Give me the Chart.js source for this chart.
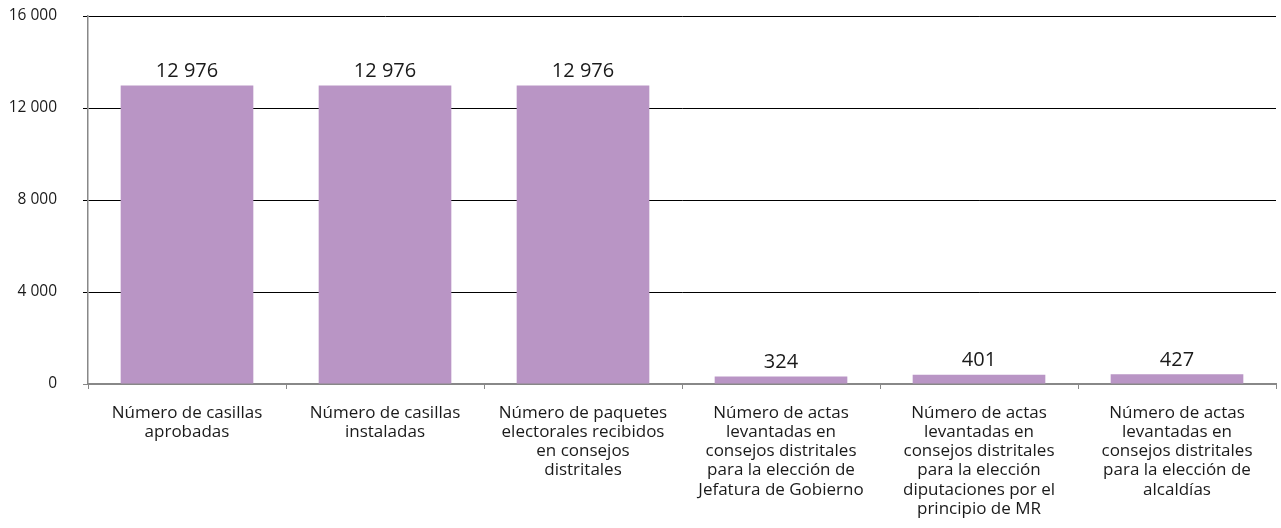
<!DOCTYPE html>
<html lang="es">
<head>
<meta charset="UTF-8">
<title>Casillas y actas</title>
<style>
  html, body { margin: 0; padding: 0; background: #fff; }
  #wrap { width: 1281px; height: 528px; }
</style>
<script src="https://cdn.jsdelivr.net/npm/chart.js"></script>
</head>
<body>
<div id="wrap"><canvas id="grafico" width="1281" height="528"></canvas></div>
<script>
const categorias = [
  ['Número de casillas', 'aprobadas'],
  ['Número de casillas', 'instaladas'],
  ['Número de paquetes', 'electorales recibidos', 'en consejos', 'distritales'],
  ['Número de actas', 'levantadas en', 'consejos distritales', 'para la elección de', 'Jefatura de Gobierno'],
  ['Número de actas', 'levantadas en', 'consejos distritales', 'para la elección', 'diputaciones por el', 'principio de MR'],
  ['Número de actas', 'levantadas en', 'consejos distritales', 'para la elección de', 'alcaldías']
];
const valores = [12976, 12976, 12976, 324, 401, 427];
const ticksY = [0, 4000, 8000, 12000, 16000];

const fuente = "'Open Sans', 'Noto Sans', sans-serif";

// separador de miles con espacio
function formato(n) {
  return String(n).replace(/\B(?=(\d{3})+(?!\d))/g, ' ');
}

// etiquetas encima de cada barra
const etiquetas = {
  id: 'etiquetas',
  afterDatasetsDraw(chart) {
    const ctx = chart.ctx;
    const meta = chart.getDatasetMeta(0);
    ctx.save();
    ctx.font = '20px ' + fuente;
    ctx.fillStyle = '#1a1a1a';
    ctx.textAlign = 'center';
    ctx.textBaseline = 'bottom';
    meta.data.forEach((bar, i) => {
      ctx.fillText(formato(valores[i]), bar.x, bar.y - 4);
    });
    ctx.restore();
  }
};

new Chart(document.getElementById('grafico'), {
  type: 'bar',
  data: {
    labels: categorias,
    datasets: [{
      data: valores,
      backgroundColor: '#b995c5',
      categoryPercentage: 1,
      barPercentage: 0.67
    }]
  },
  options: {
    responsive: false,
    animation: false,
    layout: { padding: { top: 16, right: 5, left: 0, bottom: 0 } },
    plugins: {
      legend: { display: false },
      tooltip: { enabled: false }
    },
    scales: {
      x: {
        grid: {
          offset: true,
          drawOnChartArea: false,
          drawTicks: true,
          tickLength: 5,
          color: '#888'
        },
        border: { color: '#888', width: 2 },
        ticks: {
          color: '#1a1a1a',
          font: { family: fuente, size: 17, lineHeight: 1.12 },
          padding: 15,
          maxRotation: 0,
          autoSkip: false
        },
        afterFit(s) { s.height = 144; s.paddingTop = 0; s.paddingBottom = 0; }
      },
      y: {
        min: 0,
        max: 16000,
        afterBuildTicks(s) { s.ticks = ticksY.map(v => ({ value: v })); },
        grid: {
          color: ctx => ctx.tick && ctx.tick.value === 0 ? '#888' : '#000',
          tickLength: 5,
          lineWidth: 1
        },
        border: { color: '#888', width: 1.5 },
        ticks: {
          color: '#1a1a1a',
          font: { family: fuente, size: 15.5 },
          padding: 26,
          callback: v => formato(v)
        },
        afterFit(s) { s.width = 88; s.paddingTop = 0; s.paddingBottom = 0; }
      }
    }
  },
  plugins: [etiquetas]
});
</script>
</body>
</html>
